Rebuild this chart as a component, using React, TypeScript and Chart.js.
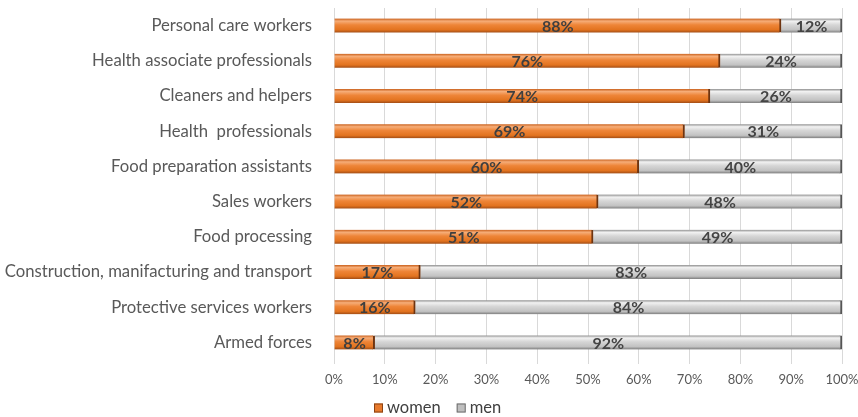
import React, { useEffect, useRef } from "react";
import { Chart, registerables } from "chart.js";

Chart.register(...registerables);

const categories = [
  "Personal care workers",
  "Health associate professionals",
  "Cleaners and helpers",
  "Health  professionals",
  "Food preparation assistants",
  "Sales workers",
  "Food processing",
  "Construction, manifacturing and transport",
  "Protective services workers",
  "Armed forces",
];
const women = [88, 76, 74, 69, 60, 52, 51, 17, 16, 8];
const men = [12, 24, 26, 31, 40, 48, 49, 83, 84, 92];
const xTicks = [0, 10, 20, 30, 40, 50, 60, 70, 80, 90, 100];
const seriesNames = ["women", "men"];

const FONT = "Lato, 'Open Sans', sans-serif";

function makeGrad(chart: any, index: number, stops: [number, string][]) {
  const ys = chart.scales && chart.scales.y;
  const c = chart.ctx;
  if (!ys) return stops[2][1];
  const yc = ys.getPixelForValue(index);
  if (!isFinite(yc)) return stops[2][1];
  const h = 14;
  const g = c.createLinearGradient(0, yc - h / 2, 0, yc + h / 2);
  stops.forEach(([o, col]) => g.addColorStop(o, col));
  return g;
}

const orangeStops: [number, string][] = [
  [0, "#c9601c"],
  [0.18, "#f6ad78"],
  [0.45, "#ee8538"],
  [0.8, "#e2731f"],
  [1, "#a24d16"],
];
const grayStops: [number, string][] = [
  [0, "#8f8f8f"],
  [0.18, "#f2f2f2"],
  [0.45, "#d6d6d6"],
  [0.8, "#c2c2c2"],
  [1, "#7d7d7d"],
];

const labelPlugin = {
  id: "segLabels",
  afterDatasetsDraw(chart: any) {
    const c = chart.ctx;
    c.save();
    c.font = `bold 16px ${FONT}`;
    c.textAlign = "center";
    c.textBaseline = "middle";
    chart.data.datasets.forEach((ds: any, di: number) => {
      const meta = chart.getDatasetMeta(di);
      meta.data.forEach((bar: any, i: number) => {
        const x = (bar.x + bar.base) / 2;
        c.fillStyle = di === 0 ? "#3f3f3f" : "#444444";
        c.fillText(ds.data[i] + "%", x, bar.y + 1);
      });
    });
    c.restore();
  },
};

const legendPlugin = {
  id: "customLegend",
  afterDraw(chart: any) {
    const c = chart.ctx;
    c.save();
    c.font = `16.5px ${FONT}`;
    c.textBaseline = "middle";
    c.textAlign = "left";
    const fills = ["#e87a2c", "#bfbfbf"];
    const strokes = ["#8a4213", "#6f6f6f"];
    let x = 374;
    const yc = 408;
    seriesNames.forEach((name, i) => {
      c.fillStyle = fills[i];
      c.strokeStyle = strokes[i];
      c.lineWidth = 1;
      c.fillRect(x, yc - 4.5, 9, 9);
      c.strokeRect(x + 0.5, yc - 4, 8, 8);
      c.fillStyle = "#404040";
      c.fillText(name, x + 13, yc);
      x += 13 + c.measureText(name).width + 16;
    });
    c.restore();
  },
};

export default function App() {
  const ref = useRef<HTMLCanvasElement | null>(null);
  useEffect(() => {
    document.body.style.margin = "0";
    const chart = new Chart(ref.current as HTMLCanvasElement, {
      type: "bar",
      data: {
        labels: categories,
        datasets: [
          {
            label: seriesNames[0],
            data: women,
            backgroundColor: (ctx: any) => makeGrad(ctx.chart, ctx.dataIndex, orangeStops),
            borderColor: "#6e3410",
            borderWidth: { right: 2, left: 0, top: 0, bottom: 0 },
            borderSkipped: false,
            barThickness: 14,
          },
          {
            label: seriesNames[1],
            data: men,
            backgroundColor: (ctx: any) => makeGrad(ctx.chart, ctx.dataIndex, grayStops),
            borderColor: "#555555",
            borderWidth: { right: 2, left: 0, top: 0, bottom: 0 },
            borderSkipped: false,
            barThickness: 14,
          },
        ],
      },
      options: {
        indexAxis: "y",
        animation: false,
        responsive: false,
        layout: { padding: { top: 8, right: 16, left: 0, bottom: 22 } },
        scales: {
          x: {
            stacked: true,
            min: 0,
            max: 100,
            afterBuildTicks: (s: any) => {
              s.ticks = xTicks.map((v) => ({ value: v }));
            },
            afterFit: (s: any) => {
              s.height = 35;
              s.paddingLeft = 0;
              s.paddingRight = 0;
            },
            ticks: {
              callback: (v: any) => v + "%",
              color: "#595959",
              font: { family: FONT, size: 13 },
              padding: 8,
            },
            grid: { color: "#d9d9d9", drawTicks: true, tickLength: 4 },
            border: { display: false },
          },
          y: {
            stacked: true,
            afterFit: (s: any) => {
              s.width = 334;
              s.paddingTop = 0;
              s.paddingBottom = 0;
            },
            ticks: {
              color: "#595959",
              font: { family: FONT, size: 16.7 },
              padding: 14,
            },
            grid: { display: false },
            border: { display: true, color: "#d9d9d9" },
          },
        },
        plugins: {
          legend: { display: false },
          tooltip: { enabled: false },
        },
      },
      plugins: [labelPlugin, legendPlugin],
    } as any);
    return () => chart.destroy();
  }, []);
  return (
    <div style={{ width: 858, height: 417 }}>
      <canvas ref={ref} width={858} height={417} style={{ display: "block" }} />
    </div>
  );
}
